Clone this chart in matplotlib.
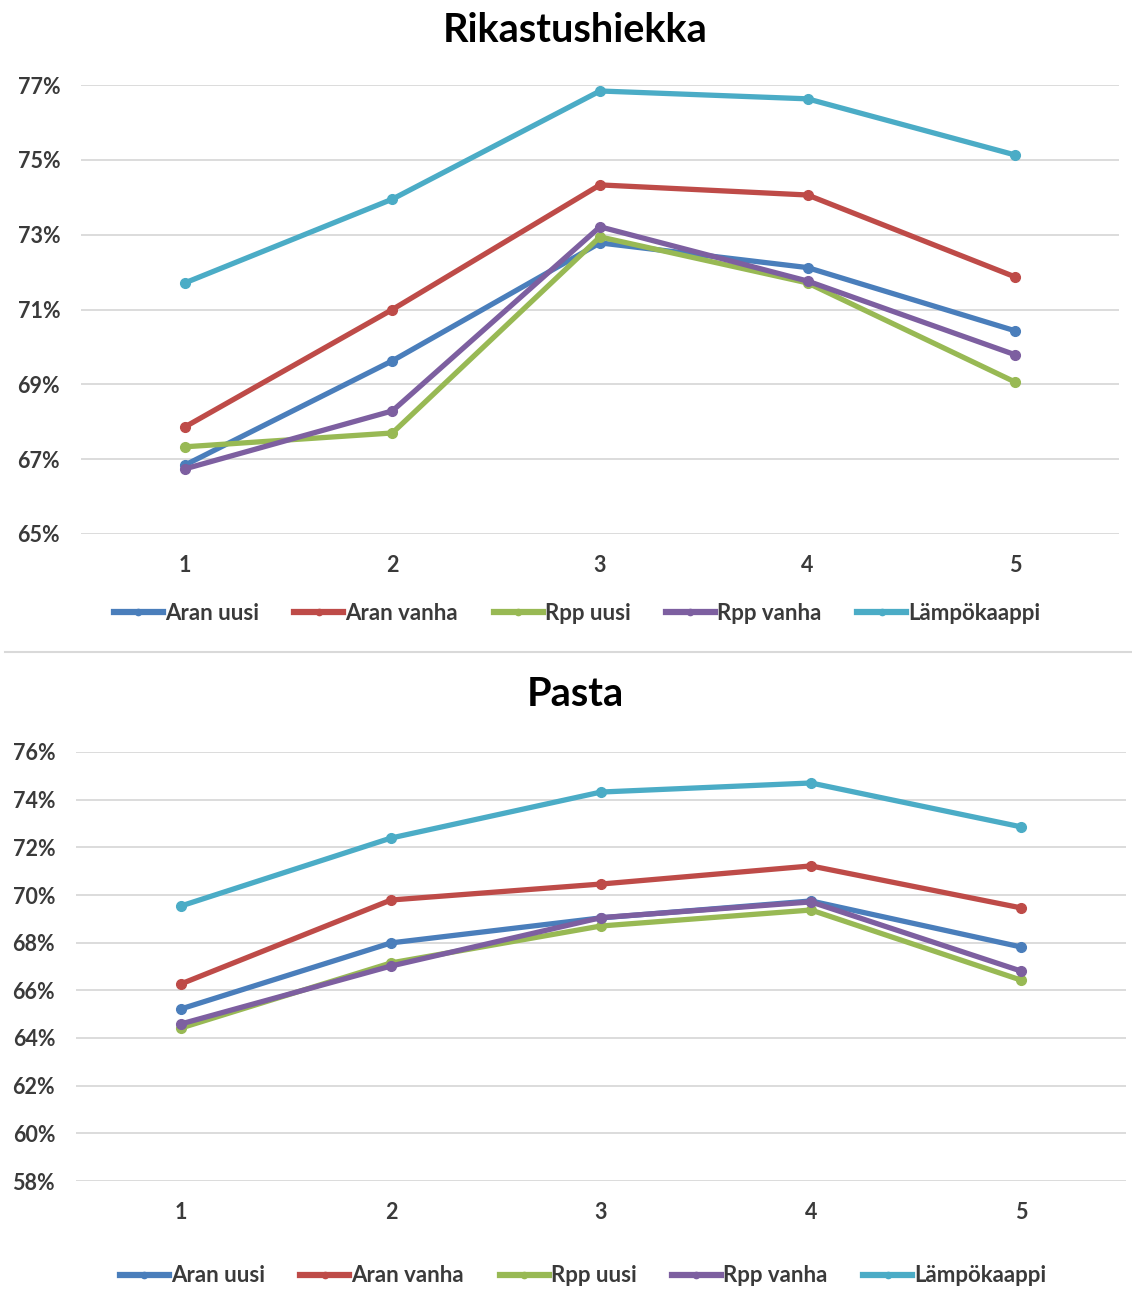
import matplotlib
matplotlib.use("Agg")
import matplotlib.pyplot as plt
from matplotlib.lines import Line2D
from matplotlib.ticker import FuncFormatter

plt.rcParams['font.family'] = ['Lato', 'DejaVu Sans']

x = [1, 2, 3, 4, 5]
series_names = ["Aran uusi", "Aran vanha", "Rpp uusi", "Rpp vanha", "Lämpökaappi"]
colors = ["#4A7EBB", "#BE4B48", "#98B954", "#7D5FA0", "#4BACC6"]

# Rikastushiekka (%)
rik_aran_uusi = [66.84, 69.63, 72.78, 72.12, 70.43]
rik_aran_vanha = [67.86, 71.00, 74.33, 74.06, 71.87]
rik_rpp_uusi = [67.33, 67.70, 72.94, 71.71, 69.06]
rik_rpp_vanha = [66.74, 68.29, 73.21, 71.76, 69.79]
rik_lampokaappi = [71.71, 73.95, 76.84, 76.63, 75.13]

# Pasta (%)
pas_aran_uusi = [65.22, 67.99, 69.04, 69.75, 67.82]
pas_aran_vanha = [66.27, 69.79, 70.46, 71.22, 69.46]
pas_rpp_uusi = [64.42, 67.15, 68.70, 69.37, 66.43]
pas_rpp_vanha = [64.59, 67.02, 69.05, 69.71, 66.81]
pas_lampokaappi = [69.54, 72.39, 74.32, 74.70, 72.86]

rik_ticks = [65, 67, 69, 71, 73, 75, 77]
pas_ticks = [58, 60, 62, 64, 66, 68, 70, 72, 74, 76]

W, H = 1132, 1296
fig = plt.figure(figsize=(W / 100, H / 100), dpi=100)
fig.patch.set_facecolor("white")

text_color = "#3A3A3A"


def px_axes(left, top, right, bottom):
    return fig.add_axes([left / W, 1 - bottom / H, (right - left) / W, (bottom - top) / H])


def draw_panel(ax, data, ticks, title, title_y, legend_y, legend_x):
    for vals, name, c in zip(data, series_names, colors):
        ax.plot(x, vals, color=c, lw=3.8, marker="o", ms=7,
                solid_capstyle="round", label=name, zorder=3)
    ax.set_xlim(0.5, 5.5)
    ax.set_ylim(ticks[0], ticks[-1])
    ax.set_yticks(ticks)
    ax.set_xticks(x)
    ax.yaxis.set_major_formatter(FuncFormatter(lambda v, p: f"{v:.0f}%"))
    ax.grid(axis="y", color="#D9D9D9", lw=1.3, zorder=0)
    for s in ax.spines.values():
        s.set_visible(False)
    ax.tick_params(length=0, labelsize=15.5, labelcolor=text_color, pad=15)
    for lab in ax.get_xticklabels() + ax.get_yticklabels():
        lab.set_fontweight("bold")
    fig.text(0.508, 1 - title_y / H, title, ha="center", va="center",
             fontsize=28.5, fontweight="bold", color="black")
    handles = [Line2D([0], [0], color=c, lw=4.5, marker="o", ms=4.5) for c in colors]
    leg = fig.legend(handles, series_names, loc="center",
                     bbox_to_anchor=(legend_x / W, 1 - legend_y / H), ncol=5,
                     frameon=False, fontsize=16, handlelength=2.2,
                     handletextpad=0.1, columnspacing=1.6)
    for t in leg.get_texts():
        t.set_color(text_color)
        t.set_fontweight("bold")


ax1 = px_axes(81, 85, 1119, 534)
draw_panel(ax1, [rik_aran_uusi, rik_aran_vanha, rik_rpp_uusi, rik_rpp_vanha, rik_lampokaappi],
           rik_ticks, "Rikastushiekka", 30, 613, 577)

ax2 = px_axes(76, 752, 1126, 1181)
draw_panel(ax2, [pas_aran_uusi, pas_aran_vanha, pas_rpp_uusi, pas_rpp_vanha, pas_lampokaappi],
           pas_ticks, "Pasta", 695, 1276, 583)

# separator between the two panels
fig.add_artist(Line2D([5 / W, 1], [1 - 652 / H, 1 - 652 / H],
                      transform=fig.transFigure, color="#D9D9D9", lw=1.5))

fig.savefig("out.png", dpi=100, facecolor="white")
